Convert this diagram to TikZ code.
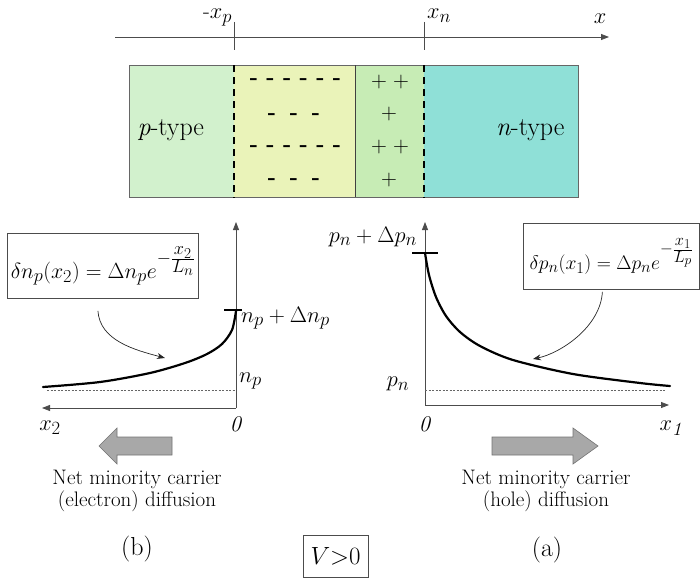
\documentclass[tikz,border=0pt]{standalone}
\usepackage{amsmath}
\usetikzlibrary{arrows.meta}
\usepackage{xcolor}
\definecolor{ptype}{HTML}{D2F1CD}
\definecolor{pdep}{HTML}{EAF3B9}
\definecolor{ndep}{HTML}{C7ECB5}
\definecolor{ntype}{HTML}{8FE0D7}
\definecolor{fatgray}{HTML}{A8A8A8}

\begin{document}
\begin{tikzpicture}[x=1pt,y=-1pt,>={Triangle[length=8pt,width=6pt]},line cap=butt,
  axis/.style={draw=black!70,line width=0.8pt},
  lbl/.style={inner sep=1pt,scale=0.9,font=\fontsize{24.88}{27}\selectfont},
  region/.style={anchor=north west,minimum height=132pt,inner sep=0pt,draw=none},
  charge/.style={inner sep=0pt,font=\fontsize{22}{24}\selectfont},
  eqbox/.style={draw=black!70,line width=0.8pt,fill=white,anchor=north west,inner sep=1pt,font=\fontsize{24.88}{27}\selectfont},
  fat/.style={fill=fatgray,draw=black!55,line width=0.6pt},
  note/.style={align=center,inner sep=1pt,font=\fontsize{21}{22}\selectfont}]
\useasboundingbox (0,0) rectangle (700,578);

\coordinate (xs) at (115,37);
\coordinate (xe) at (609,37);
\draw[axis,->] (xs) -- (xe);
\node[lbl,anchor=base] (xlab) at (600,24) {$x$};
\coordinate (tp) at (234,22);
\coordinate (tpb) at (234,50);
\coordinate (tn) at (424,22);
\coordinate (tnb) at (424,50);
\draw[axis] (tp) -- (tpb);
\draw[axis] (tn) -- (tnb);
\node[lbl,anchor=base east] (xplab) at (233,19) {-$x_p$};
\node[lbl,anchor=base west] (xnlab) at (426,19) {$x_n$};

\node[region,fill=ptype,minimum width=105pt] (preg) at (129,65) {};
\node[region,fill=pdep,minimum width=121pt] (pdreg) at (234,65) {};
\node[region,fill=ndep,minimum width=69pt] (ndreg) at (355,65) {};
\node[region,fill=ntype,minimum width=154pt] (nreg) at (424,65) {};
\draw[black!60,line width=0.8pt] (preg.north west) rectangle (nreg.south east);
\draw[black!75,line width=0.7pt] (ndreg.north west) -- (ndreg.south west);
\draw[line width=2pt,dash pattern=on 7pt off 5pt] (pdreg.north west) -- (pdreg.south west);
\draw[line width=2pt,dash pattern=on 7pt off 5pt] (nreg.north west) -- (nreg.south west);

\foreach \k in {0,...,5} {
  \node[charge] (ma\k) at ({254+16.6*\k},82) {\textbf{-}};
  \node[charge] (mc\k) at ({254+16.6*\k},149) {\textbf{-}};
}
\foreach \k in {0,1,2} {
  \node[charge] (mb\k) at ({272+22*\k},117) {\textbf{-}};
  \node[charge] (md\k) at ({272+22*\k},182) {\textbf{-}};
}
\node[charge] (pa0) at (379,82) {+};
\node[charge] (pa1) at (401,82) {+};
\node[charge] (pb0) at (389,114) {+};
\node[charge] (pc0) at (379,147) {+};
\node[charge] (pc1) at (401,147) {+};
\node[charge] (pd0) at (389,180) {+};

\node[anchor=west,font=\fontsize{26}{30}\selectfont] (plab) at (134,130) {\textit{p}-type};
\node[anchor=east,font=\fontsize{26}{30}\selectfont] (nlab) at (568,130) {\textit{n}-type};

% left: electrons in p side
\coordinate (o2) at (236,408);
\coordinate (y2top) at (236,222);
\coordinate (x2end) at (42,408);
\draw[axis,->] (o2) -- (y2top);
\draw[axis,->] (o2) -- (x2end);
\draw[black!60,line width=0.6pt,dash pattern=on 2pt off 1.5pt] (47,390) -- (236,390);
\draw[line width=2.2pt,line cap=round] plot[smooth] coordinates {(236,311) (232,330) (222,344) (207,354) (185,363) (150,373) (100,382) (43,387)};
\draw[line width=2pt] (224,310) -- (242,310);
\node[lbl,anchor=west] (nplus) at (240,318) {$n_p+\Delta n_p$};
\node[lbl,anchor=west] (np) at (238,381) {$n_p$};
\node[lbl] (zl) at (236,424) {\textit{0}};
\node[lbl] (x2lab) at (50,428) {$x_2$};
\node[eqbox,minimum width=191pt,minimum height=65pt] (eqn) at (7,233) {\scalebox{0.88}{$\delta n_p(x_2)=\Delta n_p e^{-\frac{\scriptstyle x_2}{\scriptstyle L_n}}$}};
\coordinate (na) at (165,358);
\draw[black!85,line width=0.7pt,-{Stealth[length=8pt,width=6pt]}] (eqn.south) ++(-5,12) .. controls +(2,30) and +(-30,-8) .. (na);

% right: holes in n side
\coordinate (o1) at (425,405);
\coordinate (y1top) at (425,222);
\coordinate (x1end) at (669,405);
\draw[axis,->] (o1) -- (y1top);
\draw[axis,->] (o1) -- (x1end);
\draw[black!60,line width=0.6pt,dash pattern=on 2pt off 1.5pt] (425,390) -- (665,390);
\draw[line width=2.2pt,line cap=round] plot[smooth] coordinates {(425,253) (429,275) (436,297) (446,316) (460,332) (480,346) (513,360) (573,374) (640,383) (670,386)};
\draw[line width=2pt] (412,253) -- (438,253);
\node[lbl,anchor=east] (pplus) at (418,237) {$p_n+\Delta p_n$};
\node[lbl] (pn) at (398,384) {$p_n$};
\node[lbl] (zr) at (425,424) {\textit{0}};
\node[lbl] (x1lab) at (672,428) {$x_{\mathit{1}}$};
\node[eqbox,minimum width=176pt,minimum height=66pt] (eqp) at (523,223) {\scalebox{0.79}{$\delta p_n(x_1)=\Delta p_n e^{-\frac{\scriptstyle x_1}{\scriptstyle L_p}}$}};
\coordinate (pa) at (533,359);
\draw[black!85,line width=0.7pt,-{Stealth[length=8pt,width=6pt]}] (eqp.south) ++(-9,2) .. controls +(-2,35) and +(28,-6) .. (pa);

\filldraw[fat] (172,437) -- (117,437) -- (117,428) -- (99,446) -- (117,464) -- (117,455) -- (172,455) -- cycle;
\filldraw[fat] (492,437) -- (573,437) -- (573,428) -- (598,446) -- (573,464) -- (573,455) -- (492,455) -- cycle;
\node[note] (lnote) at (137,491) {Net minority carrier\\(electron) diffusion};
\node[note] (rnote) at (546,491) {Net minority carrier\\(hole) diffusion};

\node[font=\fontsize{26}{28}\selectfont] (blab) at (137,549) {(b)};
\node[font=\fontsize{26}{28}\selectfont] (alab) at (547,550) {(a)};
\node[draw=black!70,line width=0.8pt,minimum width=65pt,minimum height=42pt,font=\fontsize{24.88}{27}\selectfont] (vbox) at (335.5,556) {$V{>}0$};
\end{tikzpicture}
\end{document}
